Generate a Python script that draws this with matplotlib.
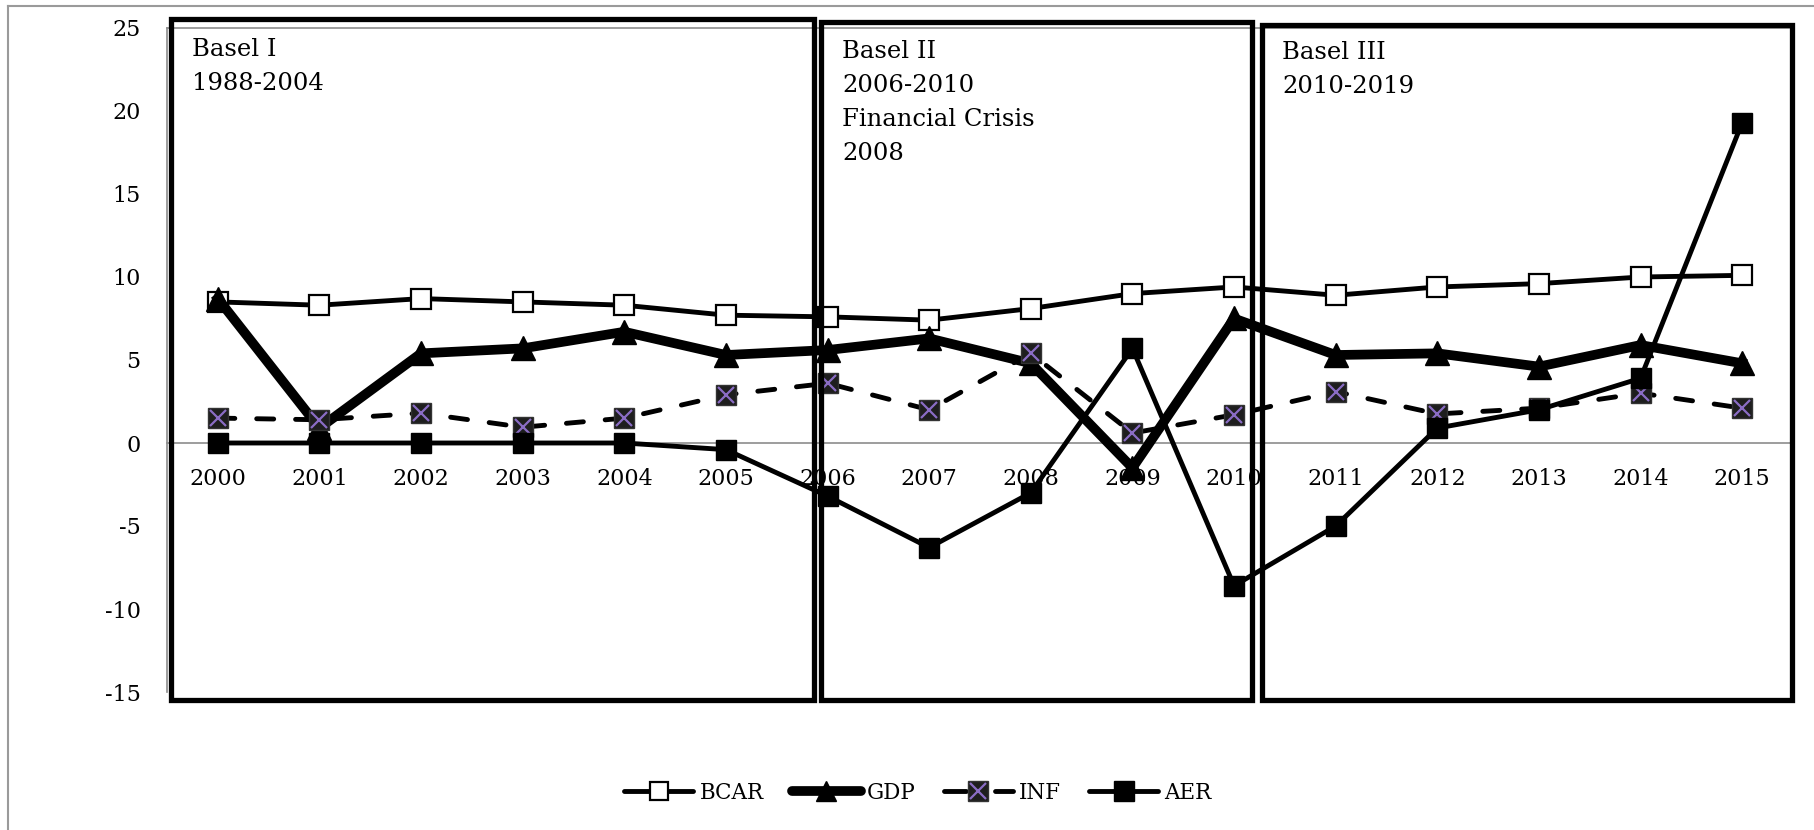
import matplotlib
matplotlib.use("Agg")
import matplotlib.pyplot as plt
from matplotlib.patches import Rectangle
from matplotlib.lines import Line2D

# Series data
years = ["2000", "2001", "2002", "2003", "2004", "2005", "2006", "2007",
         "2008", "2009", "2010", "2011", "2012", "2013", "2014", "2015"]
bcar = [8.5, 8.3, 8.7, 8.5, 8.3, 7.7, 7.6, 7.4, 8.1, 9.0, 9.4, 8.9, 9.4, 9.6, 10.0, 10.1]
gdp = [8.7, 0.9, 5.4, 5.7, 6.7, 5.3, 5.6, 6.3, 4.8, -1.5, 7.5, 5.3, 5.4, 4.6, 5.9, 4.8]
inf = [1.5, 1.4, 1.8, 0.95, 1.5, 2.9, 3.6, 2.0, 5.4, 0.6, 1.7, 3.1, 1.75, 2.1, 3.0, 2.1]
aer = [0.0, 0.0, 0.0, 0.0, 0.0, -0.4, -3.2, -6.3, -3.0, 5.7, -8.6, -5.0, 0.9, 2.0, 3.9, 19.3]

series_names = ["BCAR", "GDP", "INF", "AER"]
y_ticks = [25, 20, 15, 10, 5, 0, -5, -10, -15]

period_notes = [
    ["Basel I", "1988-2004"],
    ["Basel II", "2006-2010", "Financial Crisis", "2008"],
    ["Basel III", "2010-2019"],
]

plt.rcParams["font.family"] = ["DejaVu Serif"]

W, H = 1814, 830
fig = plt.figure(figsize=(W / 100, H / 100), dpi=100)


def fx(x):
    return x / W


def fy(y):
    return 1 - y / H


ax = fig.add_axes([fx(167), fy(692), fx(1793) - fx(167), fy(28) - fy(692)])
x = list(range(len(years)))

inf_dash = (0, (3.5, 4.5))

ax.plot(x, bcar, color="black", lw=3.5, marker="s", ms=14, mfc="white",
        mec="black", mew=1.6, zorder=3)
ax.plot(x, gdp, color="black", lw=7, marker="^", ms=17, mfc="black",
        mec="black", zorder=4, solid_joinstyle="miter")
ax.plot(x, inf, color="black", lw=3.5, ls=inf_dash, dash_capstyle="round",
        marker="s", ms=15, mfc="#1e1e1e", mec="#333333", mew=1, zorder=5)
ax.plot(x, inf, ls="none", marker="x", ms=12, mec="#8a6cc4", mew=1.6, zorder=5.5)
ax.plot(x, aer, color="black", lw=3.5, marker="s", ms=15, mfc="black",
        mec="black", zorder=6)

ax.set_xlim(-0.5, len(years) - 0.5)
ax.set_ylim(-15, 25)
ax.set_yticks(y_ticks)
ax.set_yticklabels([str(v) for v in y_ticks])
ax.set_xticks(x)
ax.set_xticklabels(years)
ax.tick_params(axis="y", length=0, pad=19, labelsize=16)
ax.tick_params(axis="x", length=0, pad=18, labelsize=16)

ax.spines["bottom"].set_position(("data", 0))
for side in ["left", "bottom", "top", "right"]:
    ax.spines[side].set_color("#8c8c8c")
    ax.spines[side].set_linewidth(1.2)
ax.spines["bottom"].set_zorder(1)

# Period boxes
boxes = [(171, 19, 814, 700), (821, 22, 1252, 700), (1262, 25, 1792, 700)]
for (x0, y0, x1, y1) in boxes:
    fig.add_artist(Rectangle((fx(x0), fy(y1)), fx(x1) - fx(x0), fy(y0) - fy(y1),
                             transform=fig.transFigure, fill=False,
                             ec="black", lw=3.8, zorder=10))

# Period notes
note_pos = [(192, 38), (842, 40), (1282, 41)]
for (tx, ty), lines in zip(note_pos, period_notes):
    for i, s in enumerate(lines):
        fig.text(fx(tx), fy(ty + i * 34), s, fontsize=17.5, va="top", ha="left")

# Outer frame
fig.add_artist(Line2D([fx(8), fx(8)], [fy(6), 0], transform=fig.transFigure,
                      color="#9a9a9a", lw=1.5))
fig.add_artist(Line2D([fx(8), 1], [fy(6), fy(6)], transform=fig.transFigure,
                      color="#9a9a9a", lw=1.5))

# Legend
h_bcar = Line2D([], [], color="black", lw=3.5, marker="s", ms=13, mfc="white",
                mec="black", mew=1.6, solid_capstyle="round")
h_gdp = Line2D([], [], color="black", lw=7, marker="^", ms=15, mfc="black",
               mec="black", solid_capstyle="round")
h_inf_a = Line2D([], [], color="black", lw=3.5, ls=(0, (4.5, 6)),
                 dash_capstyle="round", marker="s", ms=14, mfc="#1e1e1e",
                 mec="#333333")
h_inf_b = Line2D([], [], ls="none", marker="x", ms=11, mec="#8a6cc4", mew=1.6)
h_aer = Line2D([], [], color="black", lw=3.5, marker="s", ms=14, mfc="black",
               mec="black", solid_capstyle="round")
fig.legend([h_bcar, h_gdp, (h_inf_a, h_inf_b), h_aer], series_names,
           loc="center", bbox_to_anchor=(fx(918), fy(793)), ncol=4,
           frameon=False, fontsize=15.5, handlelength=3.2, handletextpad=0.3,
           columnspacing=1.3)

fig.savefig("out.png", dpi=100)
